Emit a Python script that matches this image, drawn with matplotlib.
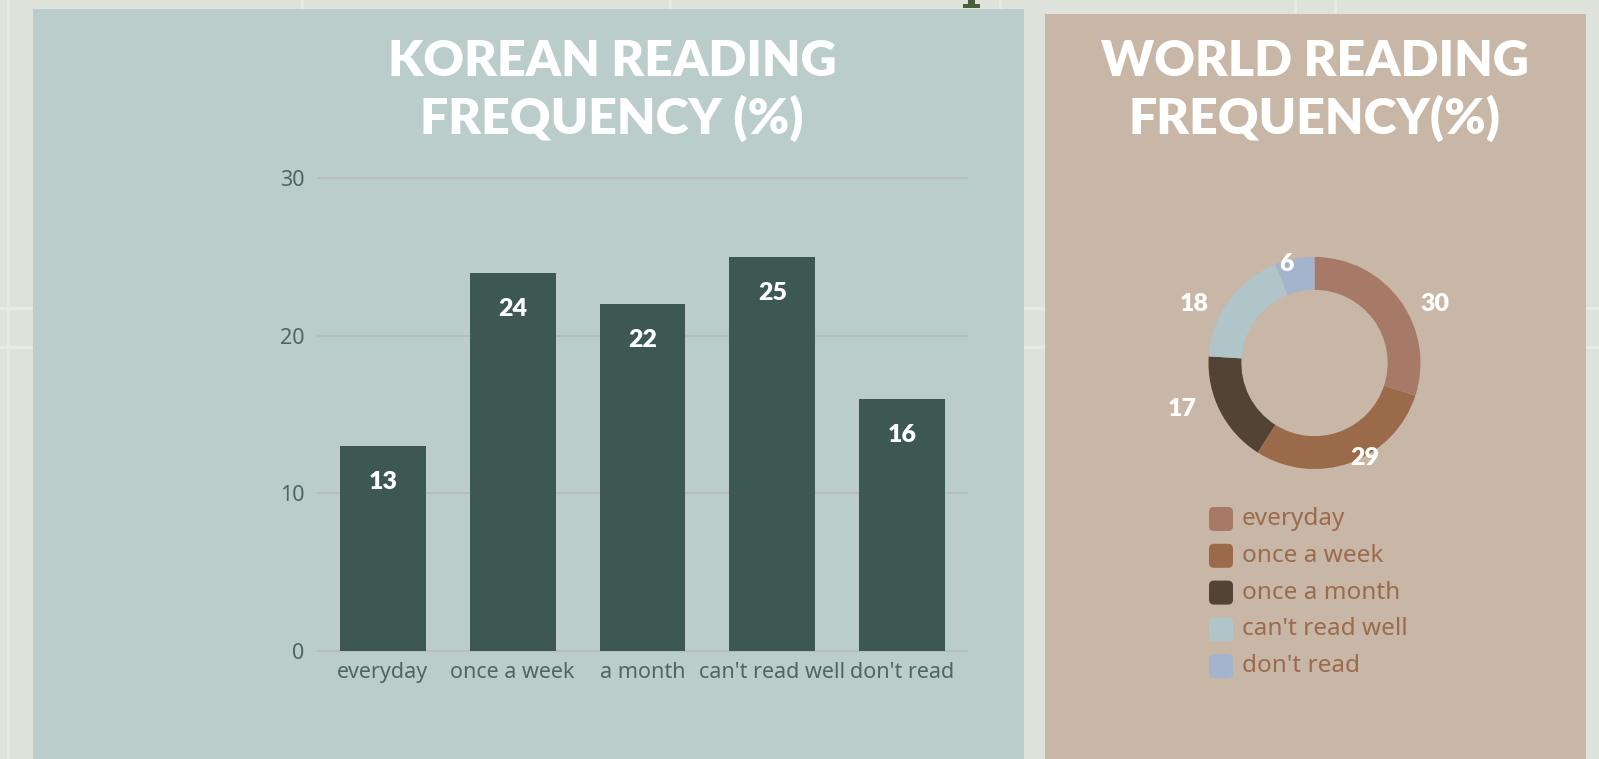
import numpy as np
import matplotlib
matplotlib.use('Agg')
import matplotlib.pyplot as plt
from matplotlib.patches import Rectangle, FancyBboxPatch

# korean survey (bar chart)
kr_labels = ['everyday', 'once a week', 'a month', "can't read well", "don't read"]
kr_values = [13, 24, 22, 25, 16]

# world survey (donut)
world_labels = ['everyday', 'once a week', 'once a month', "can't read well", "don't read"]
world_values = [30, 29, 17, 18, 6]
world_colors = ['#a67a66', '#9a6a4b', '#534334', '#afc5ca', '#a4b4cd']

y_ticks = [0, 10, 20, 30]

BOLD = dict(family='Lato', weight='heavy')

W, H = 1599, 759
fig = plt.figure(figsize=(W / 100, H / 100), dpi=100)
fig.patch.set_facecolor('#dfe2da')

# background layer in pixel coordinates
bg = fig.add_axes([0, 0, 1, 1], zorder=0)
bg.set_xlim(0, W)
bg.set_ylim(H, 0)
bg.axis('off')

for x in [8, 302, 670, 1000, 1295, 1335]:
    bg.axvline(x, color='#e7e9e3', lw=2.5, zorder=0.5)
for y in [308, 347]:
    bg.axhline(y, color='#e7e9e3', lw=2.5, zorder=0.5)

# little pin sticking out at the top
bg.add_patch(Rectangle((968, 0), 7, 5, color='#4b5e3c', lw=0, zorder=1))
bg.add_patch(Rectangle((963, 4), 17, 3.5, color='#4b5e3c', lw=0, zorder=1))

# panels
bg.add_patch(Rectangle((33, 9), 991, 760, color='#bbcdcb', lw=0, zorder=1))
bg.add_patch(Rectangle((1045, 14), 541, 760, color='#c8b6a6', lw=0, zorder=1))

title_font = dict(size=36, color='white', ha='center', va='baseline', zorder=3, **BOLD)
bg.text(612, 76, 'KOREAN READING', **title_font)
bg.text(612, 134, 'FREQUENCY (%)', **title_font)
bg.text(1315, 76, 'WORLD READING', **title_font)
bg.text(1315, 134, 'FREQUENCY(%)', **title_font)

# legend for donut
for i, (lab, col) in enumerate(zip(world_labels, world_colors)):
    yc = 519 + i * 36.8
    bg.add_patch(FancyBboxPatch((1209 + 4, yc - 12 + 4), 16, 16,
                                boxstyle='round,pad=4,rounding_size=5',
                                fc=col, ec='none', zorder=3))
    bg.text(1242, yc, lab, family='Noto Sans', size=17.5, color='#9b6b4d',
            ha='left', va='center', zorder=3)

# ---- bar chart ----
ax = fig.add_axes([318 / W, (H - 651) / H, 649 / W, 473 / H], zorder=2)
ax.set_facecolor('none')
x = np.arange(len(kr_values))
ax.bar(x, kr_values, width=0.66, color='#3d5852', zorder=3)
ax.set_xlim(-0.5, 4.5)
ax.set_ylim(0, 30)
ax.set_yticks(y_ticks)
ax.set_xticks(x)
ax.set_xticklabels(kr_labels)
ax.yaxis.grid(True, color='#b9bcbd', lw=1.5, zorder=1)
for gl in ax.get_ygridlines():
    gl.set_clip_on(False)
for s in ax.spines.values():
    s.set_visible(False)
ax.tick_params(length=0, colors='#4e6763', labelsize=15.5)
ax.tick_params(axis='x', pad=8)
ax.tick_params(axis='y', pad=10)
for lbl in ax.get_xticklabels() + ax.get_yticklabels():
    lbl.set_family('Noto Sans')

for xi, v in zip(x, kr_values):
    ax.annotate(str(v), (xi, v), xytext=(0, -31), textcoords='offset points',
                ha='center', va='baseline', color='white', fontsize=18,
                zorder=4, **BOLD)

# ---- donut ----
R_PX = 106
half = 160
pax = fig.add_axes([(1314.5 - half) / W, (H - 363 - half) / H, 2 * half / W, 2 * half / H], zorder=2)
pax.pie(world_values, colors=world_colors, startangle=90, counterclock=False,
        radius=1, wedgeprops=dict(width=0.31, edgecolor='none'))
lim = half / R_PX
pax.set_xlim(-lim, lim)
pax.set_ylim(-lim, lim)
pax.axis('off')

vals = np.array(world_values, dtype=float)
mids = np.deg2rad(90 - 360 * (np.cumsum(vals) - vals / 2) / vals.sum())
for a, v in zip(mids, world_values):
    pax.text(1.4 * np.cos(a), 0.95 * np.sin(a), str(v), ha='center', va='center',
             color='white', fontsize=18, **BOLD)

fig.savefig('out.png', dpi=100, facecolor=fig.get_facecolor())
